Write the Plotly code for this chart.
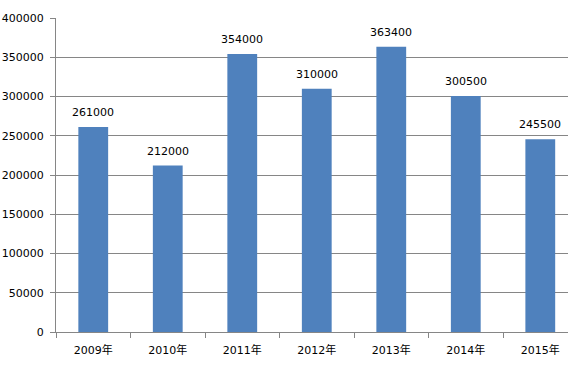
import plotly.graph_objects as go

categories = ["2009年", "2010年", "2011年", "2012年", "2013年", "2014年", "2015年"]
values = [261000, 212000, 354000, 310000, 363400, 300500, 245500]
y_ticks = [0, 50000, 100000, 150000, 200000, 250000, 300000, 350000, 400000]

font_family = "DejaVu Sans, Noto Sans CJK SC, sans-serif"
grid_color = "#868686"

xs = list(range(len(categories)))

fig = go.Figure(
    go.Bar(
        x=xs,
        y=values,
        marker=dict(color="#4F81BD", line=dict(width=0)),
        width=0.4,
        hoverinfo="skip",
    )
)

for x, v in zip(xs, values):
    fig.add_annotation(
        x=x, y=v, text=str(v), showarrow=False,
        xanchor="center", yanchor="bottom", yshift=6,
        font=dict(size=11, color="#000000", family=font_family),
    )

fig.update_layout(
    width=568,
    height=365,
    margin=dict(l=56, r=0, t=18, b=33, pad=0),
    paper_bgcolor="white",
    plot_bgcolor="white",
    showlegend=False,
    font=dict(family=font_family, size=11, color="#000000"),
    xaxis=dict(
        range=[-0.5, 6.372],
        tickmode="array",
        tickvals=xs,
        ticktext=categories,
        showgrid=False,
        showline=True,
        linecolor=grid_color,
        linewidth=1,
        ticks="",
        zeroline=False,
        automargin=False,
        tickfont=dict(size=11, family=font_family),
        ticklabelstandoff=8,
        minor=dict(
            tickmode="array",
            tickvals=[i - 0.5 for i in range(len(categories) + 1)],
            ticks="outside",
            ticklen=5,
            tickcolor=grid_color,
            showgrid=False,
        ),
    ),
    yaxis=dict(
        range=[0, 400000],
        tickmode="array",
        tickvals=y_ticks,
        ticktext=[str(v) for v in y_ticks],
        showgrid=True,
        gridcolor=grid_color,
        gridwidth=1,
        showline=True,
        linecolor=grid_color,
        linewidth=1,
        ticks="outside",
        ticklen=5,
        tickcolor=grid_color,
        zeroline=False,
        automargin=False,
        tickfont=dict(size=11, family=font_family),
        ticklabelstandoff=4,
    ),
)

fig.write_html(
    "out.html",
    config={"displayModeBar": False, "staticPlot": True},
    post_script="document.body.style.margin='0';document.body.style.overflow='hidden';",
)
